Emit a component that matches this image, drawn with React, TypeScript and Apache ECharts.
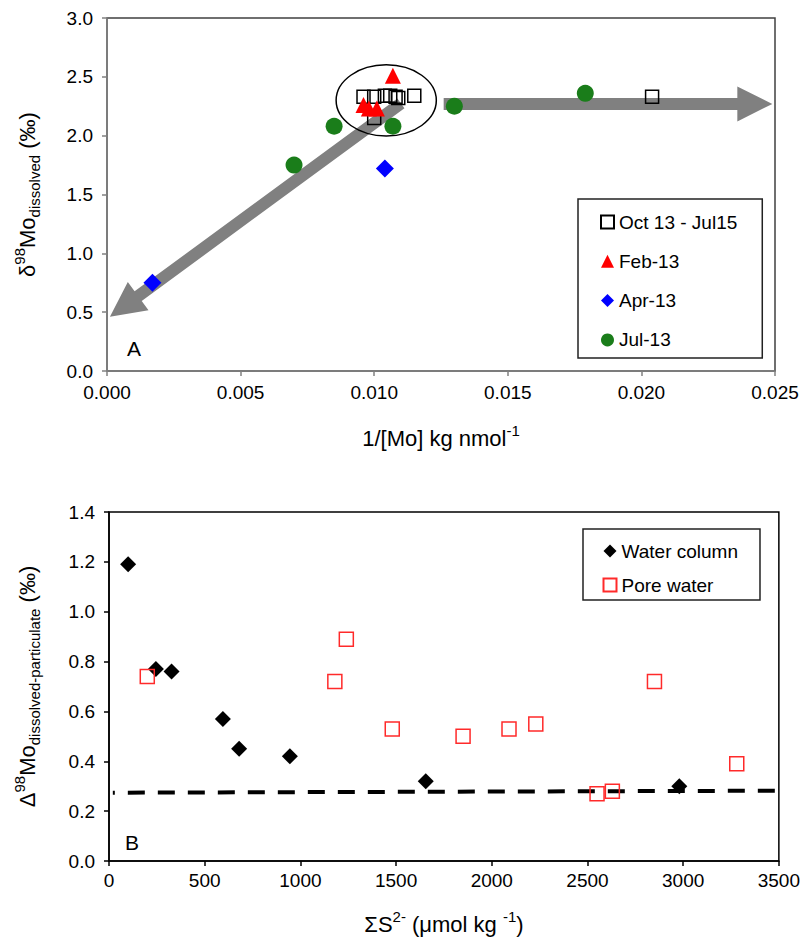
import React, { useEffect, useRef } from "react";
import * as echarts from "echarts";

// ---------- Panel A data: 1/[Mo] (kg nmol-1) vs δ98Mo dissolved (‰)
const octToJul15: number[][] = [
  [0.0096, 2.33], [0.0100, 2.33], [0.0104, 2.34], [0.0106, 2.34], [0.0108, 2.33],
  [0.0109, 2.32], [0.0115, 2.34], [0.0100, 2.15], [0.0204, 2.33],
];
const feb13: number[][] = [[0.0096, 2.26], [0.0098, 2.23], [0.0101, 2.23], [0.0107, 2.51]];
const apr13: number[][] = [[0.0017, 0.75], [0.0104, 1.72]];
const jul13: number[][] = [[0.0070, 1.75], [0.0085, 2.08], [0.0107, 2.08], [0.0130, 2.25], [0.0179, 2.36]];
// trend arrows: [fromX, fromY, toX, toY]
const trendArrowsA: number[][] = [[0.0110, 2.275, 0.00011, 0.46], [0.0126, 2.27, 0.0249, 2.27]];
// cluster ellipse: [cx, cy, rx, ry] in data units
const clusterEllipseA: number[][] = [[0.01045, 2.30, 0.001875, 0.302]];
const legendA = ["Oct 13 - Jul15", "Feb-13", "Apr-13", "Jul-13"];

// ---------- Panel B data: ΣS2- (µmol kg-1) vs Δ98Mo dissolved-particulate (‰)
const waterColumn: number[][] = [
  [100, 1.19], [245, 0.77], [327, 0.76], [595, 0.57], [680, 0.45], [945, 0.42], [1655, 0.32], [2980, 0.30],
];
const poreWater: number[][] = [
  [200, 0.74], [1180, 0.72], [1240, 0.89], [1480, 0.53], [1850, 0.50], [2090, 0.53],
  [2230, 0.55], [2550, 0.27], [2630, 0.28], [2850, 0.72], [3280, 0.39],
];
const baselineB: number[][] = [[20, 0.274], [3500, 0.282]];
const legendB = ["Water column", "Pore water"];

const FONT = "'Liberation Sans', Arial, Helvetica, sans-serif";

const richName = {
  fontFamily: FONT,
  color: "#000",
  rich: {
    n: { fontSize: 22, lineHeight: 30, fontFamily: FONT, color: "#000" },
    sup: { fontSize: 15, lineHeight: 15, verticalAlign: "top", fontFamily: FONT, color: "#000" },
    sub: { fontSize: 15, lineHeight: 15, verticalAlign: "bottom", fontFamily: FONT, color: "#000" },
  },
};

function arrowRender(_params: any, api: any) {
  const a = api.coord([api.value(0), api.value(1)]);
  const b = api.coord([api.value(2), api.value(3)]);
  const dx = b[0] - a[0];
  const dy = b[1] - a[1];
  const len = Math.hypot(dx, dy);
  const ux = dx / len;
  const uy = dy / len;
  const nx = -uy;
  const ny = ux;
  const hw = 6;
  const hl = 35;
  const hh = 17.5;
  const bx = b[0] - ux * hl;
  const by = b[1] - uy * hl;
  const pts = [
    [a[0] + nx * hw, a[1] + ny * hw],
    [bx + nx * hw, by + ny * hw],
    [bx + nx * hh, by + ny * hh],
    [b[0], b[1]],
    [bx - nx * hh, by - ny * hh],
    [bx - nx * hw, by - ny * hw],
    [a[0] - nx * hw, a[1] - ny * hw],
  ];
  return { type: "polygon", shape: { points: pts }, style: { fill: "#808080" } };
}

function ellipseRender(_params: any, api: any) {
  const c = api.coord([api.value(0), api.value(1)]);
  const e = api.coord([api.value(0) + api.value(2), api.value(1) + api.value(3)]);
  return {
    type: "ellipse",
    shape: { cx: c[0], cy: c[1], rx: Math.abs(e[0] - c[0]), ry: Math.abs(c[1] - e[1]) },
    style: { fill: "none", stroke: "#000", lineWidth: 1.5 },
  };
}

function axisBase(color: string) {
  return {
    type: "value",
    axisLine: { show: true, onZero: false, lineStyle: { color, width: 1.5 } },
    axisTick: { show: true, length: 5, lineStyle: { color, width: 1.5 } },
    splitLine: { show: false },
  };
}

const tickLabel = { fontSize: 19, color: "#000", fontFamily: FONT };

export default function App() {
  const ref = useRef<HTMLDivElement>(null);
  useEffect(() => {
    document.body.style.margin = "0";
    if (!ref.current) return;
    const chart = echarts.init(ref.current, undefined, { renderer: "svg" });
    const option: any = {
      animation: false,
      backgroundColor: "#fff",
      grid: [
        { left: 107, top: 18, width: 668, height: 353, show: true, borderColor: "#404040", borderWidth: 1.5 },
        { left: 109, top: 512, width: 670, height: 349, show: true, borderColor: "#000", borderWidth: 1.5 },
      ],
      xAxis: [
        {
          ...axisBase("#808080"),
          gridIndex: 0,
          min: 0,
          max: 0.025,
          interval: 0.005,
          axisLabel: { ...tickLabel, margin: 12, formatter: (v: number) => v.toFixed(3) },
          name: "{n|1/[Mo] kg nmol}{sup|-1}",
          nameLocation: "middle",
          nameGap: 52,
          nameTextStyle: richName,
        },
        {
          ...axisBase("#000"),
          gridIndex: 1,
          min: 0,
          max: 3500,
          interval: 500,
          axisLabel: { ...tickLabel, margin: 10, formatter: (v: number) => String(Math.round(v)) },
          name: "{n|ΣS}{sup|2-}{n| (μmol kg }{sup|-1}{n|)}",
          nameLocation: "middle",
          nameGap: 48,
          nameTextStyle: richName,
        },
      ],
      yAxis: [
        {
          ...axisBase("#808080"),
          gridIndex: 0,
          min: 0,
          max: 3,
          interval: 0.5,
          axisLabel: { ...tickLabel, margin: 14, formatter: (v: number) => v.toFixed(1) },
          name: "{n|δ}{sup|98}{n|Mo}{sub|dissolved}{n| (‰)}",
          nameLocation: "middle",
          nameGap: 65,
          nameTextStyle: richName,
        },
        {
          ...axisBase("#000"),
          gridIndex: 1,
          min: 0,
          max: 1.4,
          interval: 0.2,
          axisLabel: { ...tickLabel, margin: 14, formatter: (v: number) => v.toFixed(1) },
          name: "{n|Δ}{sup|98}{n|Mo}{sub|dissolved-particulate}{n| (‰)}",
          nameLocation: "middle",
          nameGap: 67,
          nameTextStyle: richName,
        },
      ],
      legend: [
        {
          orient: "vertical",
          left: 578,
          top: 199,
          padding: [13.5, 25, 8.5, 22],
          itemGap: 20.3,
          itemWidth: 13,
          itemHeight: 13,
          borderColor: "#222",
          borderWidth: 1.5,
          backgroundColor: "#fff",
          textStyle: { fontSize: 19, lineHeight: 19, color: "#000", fontFamily: FONT },
          data: legendA,
        },
        {
          orient: "vertical",
          left: 583,
          top: 529,
          padding: [12.5, 22, 5.5, 19.5],
          itemGap: 15,
          itemWidth: 13,
          itemHeight: 13,
          borderColor: "#222",
          borderWidth: 1.5,
          backgroundColor: "#fff",
          textStyle: { fontSize: 19, lineHeight: 19, color: "#000", fontFamily: FONT },
          data: legendB,
        },
      ],
      graphic: [
        { type: "text", x: 134, y: 348, style: { text: "A", fontSize: 21, fontFamily: FONT, fill: "#000", align: "center", verticalAlign: "middle" } },
        { type: "text", x: 132, y: 842, style: { text: "B", fontSize: 21, fontFamily: FONT, fill: "#000", align: "center", verticalAlign: "middle" } },
      ],
      series: [
        {
          type: "custom",
          name: "trend",
          xAxisIndex: 0,
          yAxisIndex: 0,
          renderItem: arrowRender,
          encode: { x: [0, 2], y: [1, 3] },
          data: trendArrowsA,
          silent: true,
          z: 1,
        },
        {
          type: "scatter",
          name: legendA[0],
          xAxisIndex: 0,
          yAxisIndex: 0,
          symbol: "rect",
          symbolSize: 13,
          itemStyle: { color: "rgba(255,255,255,0)", borderColor: "#000", borderWidth: 1.5, opacity: 1 },
          data: octToJul15,
          z: 3,
        },
        {
          type: "scatter",
          name: legendA[1],
          xAxisIndex: 0,
          yAxisIndex: 0,
          symbol: "triangle",
          symbolSize: 16,
          itemStyle: { color: "#ff0000", opacity: 1 },
          data: feb13,
          z: 3,
        },
        {
          type: "scatter",
          name: legendA[2],
          xAxisIndex: 0,
          yAxisIndex: 0,
          symbol: "diamond",
          symbolSize: 18,
          itemStyle: { color: "#0000ff", opacity: 1 },
          data: apr13,
          z: 3,
        },
        {
          type: "scatter",
          name: legendA[3],
          xAxisIndex: 0,
          yAxisIndex: 0,
          symbol: "circle",
          symbolSize: 17,
          itemStyle: { color: "#1a7d1a", opacity: 1 },
          data: jul13,
          z: 3,
        },
        {
          type: "custom",
          name: "cluster",
          xAxisIndex: 0,
          yAxisIndex: 0,
          renderItem: ellipseRender,
          encode: { x: 0, y: 1 },
          data: clusterEllipseA,
          silent: true,
          z: 4,
        },
        {
          type: "line",
          name: "baseline",
          xAxisIndex: 1,
          yAxisIndex: 1,
          data: baselineB,
          symbol: "none",
          silent: true,
          lineStyle: { color: "#000", width: 4, type: [17, 13], dashOffset: 14.7 },
          z: 2,
        },
        {
          type: "scatter",
          name: legendB[0],
          xAxisIndex: 1,
          yAxisIndex: 1,
          symbol: "diamond",
          symbolSize: 16,
          itemStyle: { color: "#000", opacity: 1 },
          data: waterColumn,
          z: 3,
        },
        {
          type: "scatter",
          name: legendB[1],
          xAxisIndex: 1,
          yAxisIndex: 1,
          symbol: "rect",
          symbolSize: 14,
          itemStyle: { color: "rgba(255,255,255,0)", borderColor: "#ff2a2a", borderWidth: 1.5, opacity: 1 },
          data: poreWater,
          z: 3,
        },
      ],
    };
    chart.setOption(option);
    return () => chart.dispose();
  }, []);
  return <div ref={ref} style={{ width: 803, height: 947 }} />;
}
